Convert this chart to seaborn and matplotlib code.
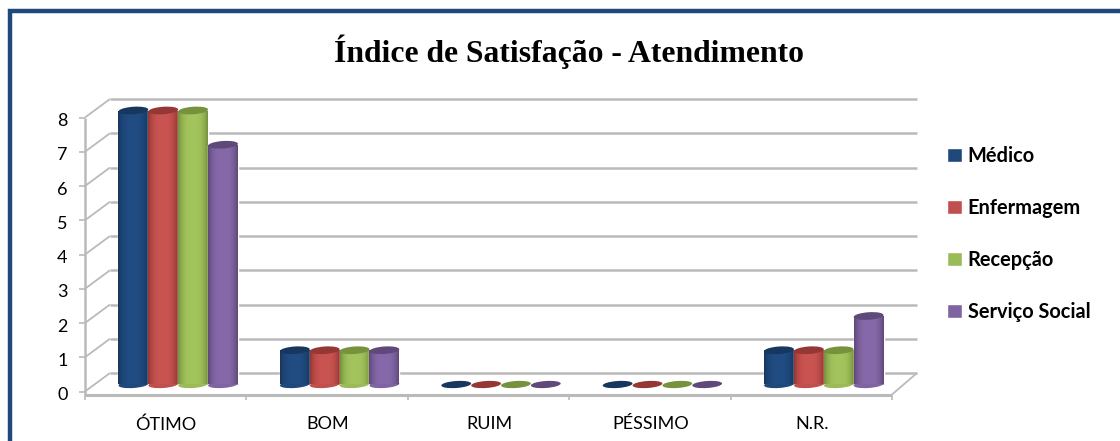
import numpy as np
import pandas as pd
import matplotlib
matplotlib.use('Agg')
import matplotlib.pyplot as plt
import seaborn as sns
from matplotlib.patches import Ellipse, Rectangle
from matplotlib.transforms import Affine2D, IdentityTransform
from matplotlib.colors import to_rgb

# data
categorias = ['ÓTIMO', 'BOM', 'RUIM', 'PÉSSIMO', 'N.R.']
medico = [8, 1, 0, 0, 1]
enfermagem = [8, 1, 0, 0, 1]
recepcao = [8, 1, 0, 0, 1]
servico_social = [7, 1, 0, 0, 2]
series = ['Médico', 'Enfermagem', 'Recepção', 'Serviço Social']
cores = ['#1F497D', '#C0504D', '#9BBB59', '#8064A2']
topos = ['#17375E', '#953735', '#76923C', '#5F497A']

df = pd.DataFrame({
    'categoria': categorias * 4,
    'valor': medico + enfermagem + recepcao + servico_social,
    'serie': np.repeat(series, 5),
})

sns.set_style('white')
plt.rcParams['font.family'] = ['Lato', 'DejaVu Sans']
plt.rcParams['text.color'] = 'black'

W, H = 1120, 441
fig = plt.figure(figsize=(W / 100, H / 100), dpi=100, facecolor='white')

# axes placed so one category is 161.4 px and one unit 34.25 px
ax = fig.add_axes([97.5 / W, (H - 384.5) / H, 807 / W, 274 / H])
ax.patch.set_alpha(0)
sns.barplot(data=df, x='categoria', y='valor', hue='serie', palette=cores,
            width=0.74, gap=0, saturation=1, ax=ax, legend=True, zorder=3)
ax.set_xlim(-0.5, 4.5)
ax.set_ylim(0, 8)
ax.set_xlabel('')
ax.set_ylabel('')
for s in ax.spines.values():
    s.set_visible(False)
fig.canvas.draw()

# fake 3d walls: the front and back planes are shifted copies of the data axes
front = ax.transData + Affine2D().translate(-12.5, -7)
back = ax.transData + Affine2D().translate(12.5, 11.5)
cinza = '#BABABA'
disp = IdentityTransform()


def linha(p0, p1, lw=1.8):
    ax.plot([p0[0], p1[0]], [p0[1], p1[1]], color=cinza, lw=lw, transform=disp,
            clip_on=False, zorder=1, solid_capstyle='butt')


for v in range(9):
    f = front.transform((-0.5, v))
    b = back.transform((-0.5, v))
    linha(f, b, 1.3)
    linha(b, back.transform((4.5, v)))
    linha((f[0] - 6, f[1]), f, 1.2)

esq_base = front.transform((-0.5, 0)) - (0, 3)
dir_base = front.transform((4.5, 0)) - (0, 3)
linha(front.transform((-0.5, 8)), esq_base)
linha(esq_base, dir_base, 2.2)
linha(dir_base, back.transform((4.5, 0)), 1.3)
for i in range(6):
    p = front.transform((i - 0.5, 0)) - (0, 3)
    linha(p, p - (0, 5), 1.2)

# cylinders: shade the seaborn bars and cap them with ellipses
barras = [p for c in ax.containers for p in c]
cores_barra = np.repeat(cores, 5)
topos_barra = np.repeat(topos, 5)
for n, (barra, cor, topo) in enumerate(zip(barras, cores_barra, topos_barra)):
    x0, larg, alt = barra.get_x(), barra.get_width(), barra.get_height()
    z = 3 + n * 0.01
    (px0, py0) = ax.transData.transform((x0, 0))
    (px1, py1) = ax.transData.transform((x0 + larg, alt))
    lpx = px1 - px0
    cx = (px0 + px1) / 2

    def elipse(cy, h, c):
        e = Ellipse((0, 0), lpx, h, angle=4, facecolor=c, edgecolor='none',
                    transform=Affine2D().translate(cx, cy), zorder=z, clip_on=False)
        ax.add_patch(e)

    if alt == 0:
        elipse(py1, 7, topo)
        barra.set_visible(False)
        continue

    base = np.array(to_rgb(cor))
    esc = np.array(to_rgb(topo))
    t = np.abs(np.linspace(-1, 1, 40)) ** 3
    grad = (base[None] * 1.05).clip(0, 1) * (1 - t[:, None]) + esc * t[:, None]
    elipse(py0, 7, cor)
    barra.set_zorder(z)
    im = ax.imshow(grad[None], extent=(x0, x0 + larg, 0, alt), aspect='auto',
                   zorder=z, interpolation='bilinear')
    im.set_clip_path(barra)
    elipse(py1, 7.5, topo)
ax.set_xlim(-0.5, 4.5)
ax.set_ylim(0, 8)

# tick labels follow the front plane
ax.set_yticks(range(9))
ax.tick_params(axis='both', length=0, labelsize=13, colors='black')
ax.tick_params(axis='y', pad=12.5)
ax.tick_params(axis='x', pad=23)
for lab in ax.get_yticklabels():
    lab.set_transform(lab.get_transform() + Affine2D().translate(-12.5, -9))
for lab in ax.get_xticklabels():
    lab.set_transform(lab.get_transform() + Affine2D().translate(-12, 0))

# title
fig.text(569 / W, 1 - 52 / H, 'Índice de Satisfação - Atendimento', ha='center', va='center',
         family='Liberation Serif', weight='bold', fontsize=22.8, color='black')

# legend
alcas, rotulos = ax.get_legend_handles_labels()
ax.legend(alcas, rotulos, loc='center left', bbox_to_anchor=(947 / W, 1 - 234 / H),
          bbox_transform=fig.transFigure, frameon=False, handlelength=0.75, handleheight=0.75,
          handletextpad=0.28, labelspacing=1.6, borderpad=0, borderaxespad=0,
          labelcolor='black', prop={'family': 'Lato', 'weight': 'bold', 'size': 14.4})

# blue frame: only the top and left edges are inside the picture
fig.add_artist(Rectangle((10 / W, -0.2), 1.2, 1.2 - 10.5 / H, transform=fig.transFigure,
                         facecolor='none', edgecolor='#1F497D', lw=3.2))

fig.savefig('out.png', dpi=100)
